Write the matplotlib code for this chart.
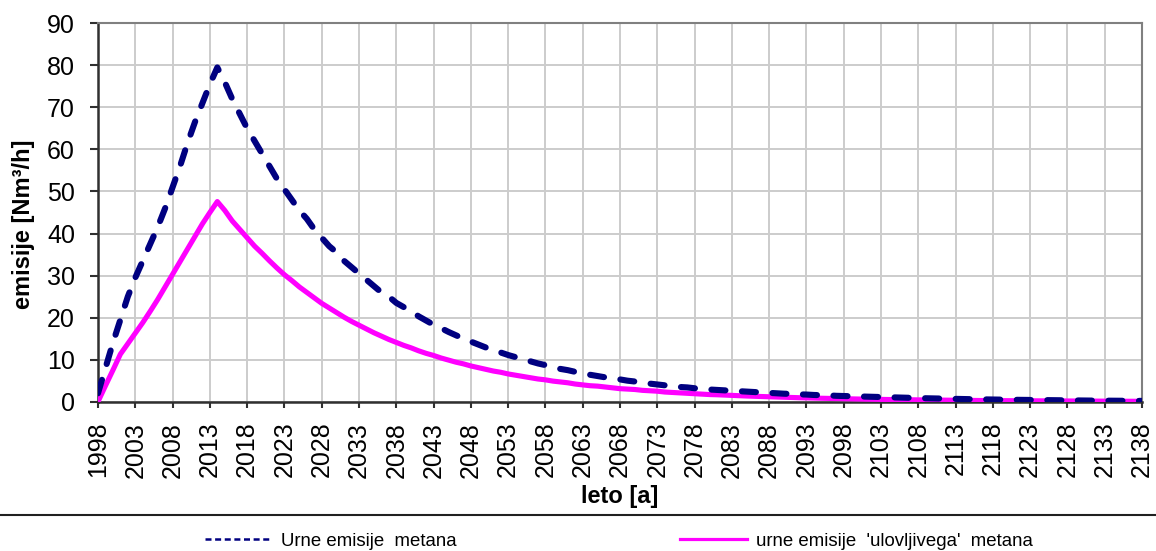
import matplotlib
matplotlib.use("Agg")
import matplotlib.pyplot as plt
from matplotlib.lines import Line2D
from matplotlib.font_manager import FontProperties

plt.rcParams['font.family'] = ['Liberation Sans', 'DejaVu Sans']

years = list(range(1998, 2139))

urne_emisije = [
    2.0, 8.0, 14.0, 19.5, 25.0, 29.5, 33.5, 37.5, 41.5, 46.0,
    51.0, 56.0, 61.5, 66.5, 71.0, 75.5, 79.5, 76.0, 72.0, 68.5,
    65.0, 62.0, 59.0, 56.0, 53.0, 50.5, 48.0, 45.5, 43.5, 41.0,
    39.0, 37.0, 35.5, 33.5, 32.0, 30.5, 29.0, 27.5, 26.0, 25.0,
    23.5, 22.5, 21.5, 20.3, 19.3, 18.3, 17.5, 16.6, 15.8, 15.0,
    14.3, 13.6, 12.9, 12.3, 11.7, 11.1, 10.6, 10.0, 9.6, 9.1,
    8.7, 8.2, 7.8, 7.5, 7.1, 6.8, 6.4, 6.1, 5.8, 5.5,
    5.3, 5.0, 4.8, 4.5, 4.3, 4.1, 3.9, 3.7, 3.5, 3.4,
    3.2, 3.0, 2.9, 2.8, 2.7, 2.6, 2.5, 2.4, 2.3, 2.2,
    2.1, 2.0, 1.9, 1.85, 1.75, 1.7, 1.6, 1.55, 1.5, 1.4,
    1.35, 1.3, 1.25, 1.2, 1.15, 1.1, 1.05, 1.0, 0.95, 0.9,
    0.85, 0.82, 0.78, 0.74, 0.7, 0.67, 0.63, 0.6, 0.57, 0.54,
    0.52, 0.49, 0.47, 0.45, 0.42, 0.4, 0.38, 0.36, 0.35, 0.33,
    0.31, 0.3, 0.28, 0.27, 0.26, 0.24, 0.23, 0.22, 0.21, 0.2,
    0.19,
]

ulovljivi = [
    0.0, 3.8, 7.5, 11.3, 13.8, 16.3, 18.8, 21.5, 24.3, 27.3,
    30.3, 33.3, 36.3, 39.3, 42.3, 45.0, 47.6, 45.5, 43.0, 41.0,
    39.0, 37.0, 35.3, 33.5, 31.8, 30.2, 28.8, 27.3, 26.0, 24.7,
    23.4, 22.3, 21.2, 20.1, 19.1, 18.2, 17.3, 16.4, 15.6, 14.8,
    14.1, 13.4, 12.8, 12.1, 11.5, 11.0, 10.4, 9.9, 9.4, 9.0,
    8.5, 8.1, 7.7, 7.3, 7.0, 6.6, 6.3, 6.0, 5.7, 5.4,
    5.2, 4.9, 4.7, 4.5, 4.2, 4.0, 3.8, 3.7, 3.5, 3.3,
    3.1, 3.0, 2.9, 2.7, 2.6, 2.5, 2.3, 2.2, 2.1, 2.0,
    1.9, 1.8, 1.7, 1.65, 1.57, 1.5, 1.42, 1.35, 1.3, 1.23,
    1.17, 1.1, 1.05, 1.0, 0.95, 0.9, 0.87, 0.82, 0.78, 0.75,
    0.7, 0.67, 0.64, 0.6, 0.57, 0.55, 0.52, 0.5, 0.47, 0.45,
    0.42, 0.4, 0.38, 0.36, 0.35, 0.33, 0.31, 0.3, 0.28, 0.27,
    0.26, 0.24, 0.23, 0.22, 0.21, 0.2, 0.19, 0.18, 0.17, 0.16,
    0.15, 0.14, 0.14, 0.13, 0.12, 0.12, 0.11, 0.11, 0.1, 0.1,
    0.1,
]

x_ticks = list(range(1998, 2139, 5))
y_ticks = list(range(0, 91, 10))

label_blue = "Urne emisije  metana"
label_mag = "urne emisije  'ulovljivega'  metana"

fig = plt.figure(figsize=(11.56, 5.51), dpi=100)
ax = fig.add_axes([98/1156, 1 - 401.7/551, (1142-98)/1156, (401.7-23.3)/551])

ax.plot(years, ulovljivi, color='#ff00ff', lw=3.7, solid_capstyle='round',
        solid_joinstyle='round', zorder=3)
ln, = ax.plot(years, urne_emisije, color='#000080', lw=4.4,
              dash_capstyle='round', zorder=4)
ln.set_dashes((2.3, 2.7))

ax.set_xlim(1998, 2138)
ax.set_ylim(0, 90)
ax.set_xticks(x_ticks)
ax.set_xticklabels([str(v) for v in x_ticks], rotation=90, fontsize=18)
ax.set_yticks(y_ticks)
ax.set_yticklabels([str(v) for v in y_ticks], fontsize=18)
ax.tick_params(axis='x', direction='out', length=4.5, width=1.5, color='#303030', pad=9.9)
ax.tick_params(axis='y', direction='out', length=5.5, width=1.5, color='#303030', pad=11.0)
ax.grid(True, color='#cccccc', lw=1.4)
ax.set_axisbelow(True)

for s in ['left', 'bottom']:
    ax.spines[s].set_color('#303030')
    ax.spines[s].set_linewidth(1.8)
for s in ['top', 'right']:
    ax.spines[s].set_color('#808080')
    ax.spines[s].set_linewidth(1.5)

ax.set_ylabel("emisije [Nm³/h]", fontsize=17, fontweight='bold')
ax.yaxis.set_label_coords(24/1156, 1 - 224/551, transform=fig.transFigure)
ax.set_xlabel("leto [a]", fontsize=17, fontweight='bold')
ax.xaxis.set_label_coords(620/1156, 1 - 497/551, transform=fig.transFigure)
ax.xaxis.label.set_va('center')
ax.yaxis.label.set_va('center')

# legend separator line
fig.add_artist(Line2D([0, 1], [1 - 515/551, 1 - 515/551], transform=fig.transFigure,
                      color='#202020', lw=1.5))

leg_size = 13.4
fp = FontProperties(family=['Liberation Sans'], size=leg_size)

h1 = Line2D([], [], color='#000080', lw=1.8, linestyle=(0, (2.4, 1.45)))
h2 = Line2D([], [], color='#ff00ff', lw=2.3)
hl = 67 / (leg_size / 72 * 100)
tp = 9 / (leg_size / 72 * 100)
leg1 = fig.legend([h1], [label_blue], loc='center left', prop=fp,
                  bbox_to_anchor=(205/1156, 1 - 541/551), frameon=False,
                  handlelength=hl, handletextpad=tp, borderpad=0, borderaxespad=0)
leg2 = fig.legend([h2], [label_mag], loc='center left', prop=fp,
                  bbox_to_anchor=(680/1156, 1 - 541/551), frameon=False,
                  handlelength=hl, handletextpad=tp, borderpad=0, borderaxespad=0)

fig.savefig("out.png", dpi=100)
